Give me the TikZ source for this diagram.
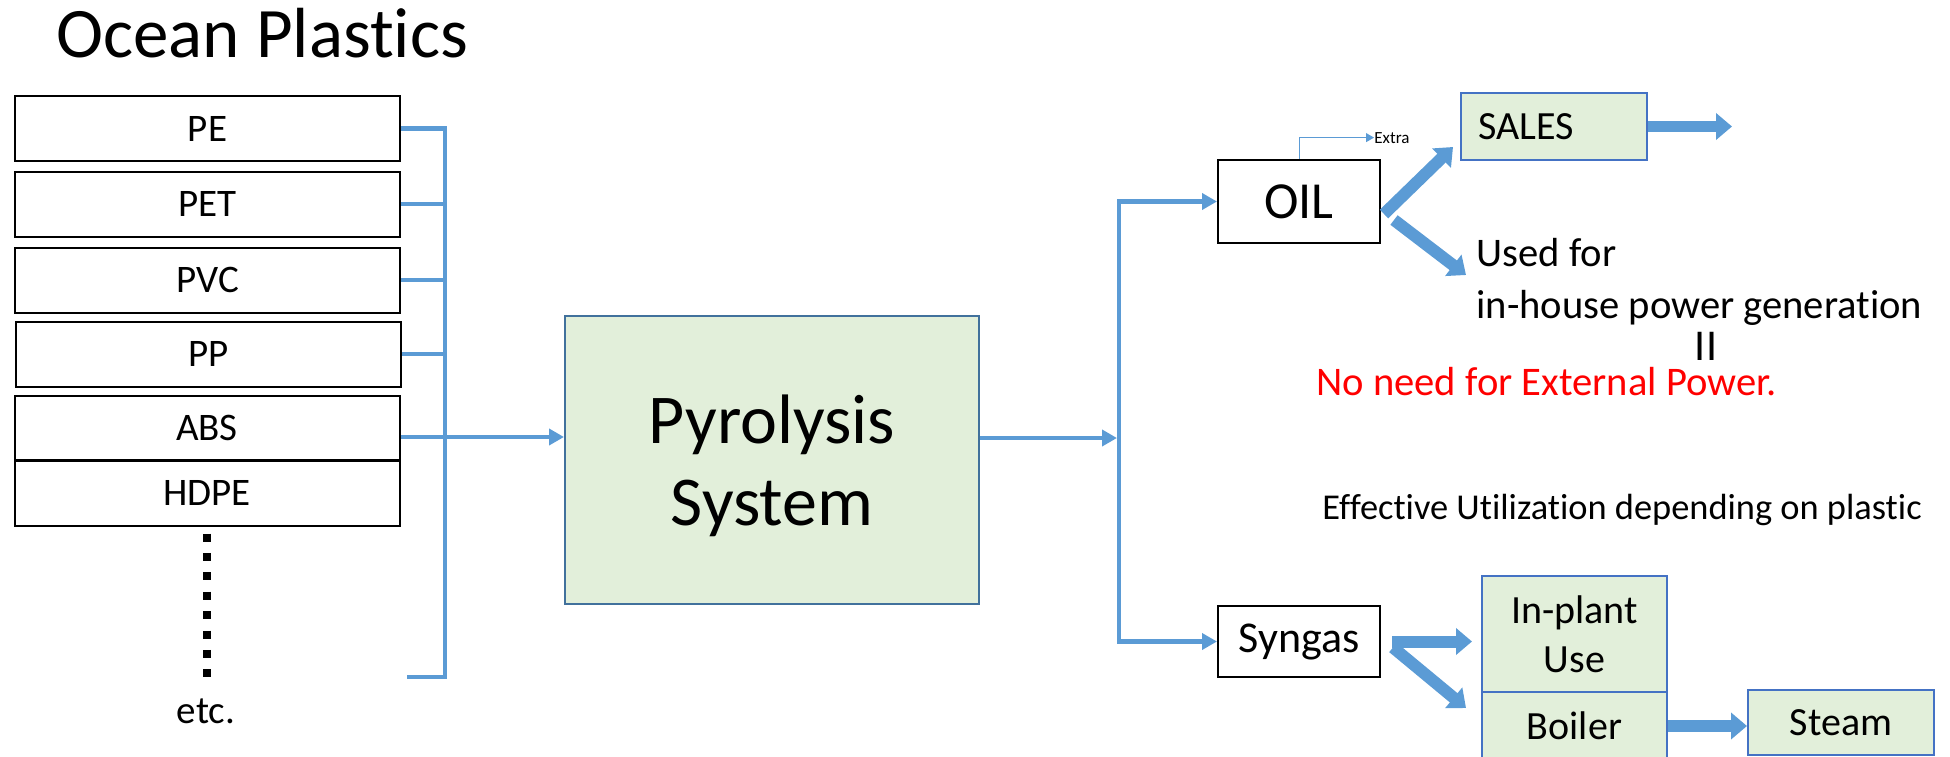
\documentclass[tikz,border=0pt]{standalone}
\usepackage{fontspec}
\setmainfont{Carlito}[Ligatures=NoCommon]
\usepackage{tikz}
\usetikzlibrary{arrows.meta,calc}

\definecolor{lineblue}{HTML}{5B9BD5}
\definecolor{boxblue}{HTML}{4472C4}
\definecolor{pyroblue}{HTML}{41719C}
\definecolor{lightgreen}{HTML}{E2EFDA}
\newcommand{\fsize}[2]{\fontsize{#1}{#2}\selectfont}

\begin{document}
\begin{tikzpicture}[x=0.5pt,y=-0.5pt,
    plastic/.style={draw,line width=1pt,minimum width=192.5pt,minimum height=32.5pt,inner sep=0pt,font=\fsize{19.5}{23}},
    product/.style={draw,line width=1pt,minimum width=81pt,inner sep=0pt},
    greenbox/.style={draw=boxblue,fill=lightgreen,line width=1pt,inner sep=0pt,minimum width=93pt,font=\fsize{20}{24.5}},
    txt/.style={inner sep=0pt,anchor=base west,font=\fsize{20.3}{24}},
    flow/.style={lineblue,line width=2.2pt},
    flowto/.style={-{Triangle[length=7.5pt,width=8pt]}},
    bigarrow/.style={lineblue,line width=6pt,-{Triangle[length=8pt,width=13pt]}}]
                \useasboundingbox (0,0) rectangle (1950,756);
                \node[txt,font=\fsize{35.5}{40}] (title) at (56,57) {Ocean Plastics};
                % 塑料种类
                \node[plastic] (pe) at (207.5,128.5) {PE};
                \node[plastic] (pet) at (207.5,204) {PET};
                \node[plastic] (pvc) at (207.5,280) {PVC};
                \node[plastic] (pp) at (208.5,354) {PP};
                \node[plastic,minimum height=32pt] (abs) at (207,428) {ABS};
                \node[plastic] (hdpe) at (207,493) {HDPE};
                \coordinate (dotend) at (206,677);
                \draw[line width=4pt,dash pattern=on 4pt off 5.7pt] ([yshift=-3.5pt]hdpe.south) -- (hdpe.south |- dotend);
                \node[inner sep=0pt,anchor=base,font=\fsize{19.5}{23}] (etc) at (206,723) {etc.};
                % 汇流线
                \coordinate (lbus) at (445,677);
                \coordinate (lend) at (407,677);
                \draw[flow] (pe.east) -| (lbus) -- (lend);
                \draw[flow] (pet.east) -- (pet.east -| lbus);
                \draw[flow] (pvc.east) -- (pvc.east -| lbus);
                \draw[flow] (pp.east) -- (pp.east -| lbus);
                % 热解装置
                \node[draw=pyroblue,fill=lightgreen,line width=1pt,minimum width=207pt,minimum height=144pt,
                      align=center,text depth=0pt,font=\fsize{35}{41}] (pyro) at (772,460) {Pyrolysis\\System};
                \draw[flow,flowto] ([yshift=-4.5pt]abs.east) -- ([yshift=-4.5pt]abs.east -| pyro.west);
                % 产物
                \coordinate (rbus) at (1119,438);
                \node[product,minimum height=41.5pt,font=\fsize{26}{30}] (oil) at (1299,201.5) {OIL};
                \node[product,minimum height=35.5pt,font=\fsize{22}{26}] (syngas) at (1299,641.5) {Syngas};
                \draw[flow,flowto] ([yshift=11pt]pyro.east) -- ([xshift=-1pt]rbus);
                \draw[flow,flowto] (rbus) |- (oil.west);
                \draw[flow,flowto] (rbus) |- (syngas.west);
                \node[txt,font=\fsize{8.5}{10}] (extra) at (1374,143) {Extra};
                \draw[lineblue,line width=0.5pt,-{Triangle[length=4pt,width=4.5pt]}] (oil.north) |- (extra.west);
                % 油的用途
                \node[greenbox,minimum height=33.5pt,text width=76pt,align=left] (sales) at (1554,126.5) {SALES};
                \coordinate (salesout) at (1732,126.5);
                \draw[bigarrow,line width=5.5pt] (sales.east) -- (salesout);
                \node[txt] (used1) at (1476,266) {Used for};
                \node[txt] (used2) at (1476,318) {in-house power generation};
                \node[inner sep=0pt,font=\fsize{22}{24}] (equal) at (1706,346) {II};
                \node[txt,text=red] (noneed) at (1316,395) {No need for External Power.};
                \draw[bigarrow] ([shift={(1.5pt,-6.25pt)}]oil.east) -- ([shift={(-3.5pt,7pt)}]sales.south west);
                \draw[bigarrow] ([shift={(6.5pt,-9.25pt)}]oil.east) -- ([shift={(-5pt,-4.5pt)}]used1.base west);
                \node[txt,font=\fsize{18.2}{22}] (effect) at (1322,519) {Effective Utilization depending on plastic};
                % 合成气的用途
                \node[greenbox,minimum width=92.5pt,minimum height=58pt,align=center] (inplant) at (1574.5,634) {In-plant\\Use};
                \node[greenbox,minimum width=92.5pt,minimum height=34pt] (boiler) at (1574.5,726) {Boiler};
                \node[greenbox,minimum height=32.5pt] (steam) at (1841,722.5) {Steam};
                \draw[bigarrow] ([xshift=5.5pt]syngas.east) -- ([xshift=-4.5pt]syngas.east -| inplant.west);
                \draw[bigarrow] ([shift={(6pt,-3pt)}]syngas.east) -- ([shift={(-7.5pt,9pt)}]boiler.west);
                \draw[bigarrow] (boiler.east) -- (boiler.east -| steam.west);
            \end{tikzpicture}
\end{document}
